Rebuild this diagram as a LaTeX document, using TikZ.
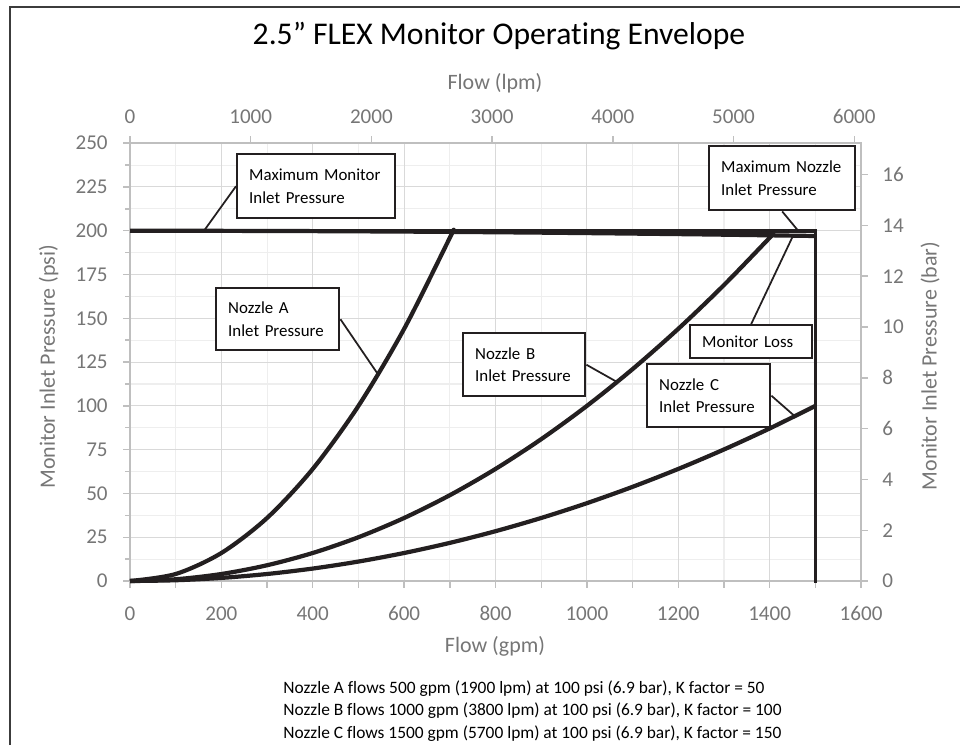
\documentclass[tikz,border=0pt]{standalone}
\usepackage{fontspec}
\setmainfont{Carlito}[Ligatures=NoCommon]
\usepackage{xcolor}
\usepackage{tikz}

\definecolor{axisgray}{RGB}{118,118,118}
\definecolor{gridmajor}{RGB}{217,217,217}
\definecolor{gridminor}{RGB}{238,238,238}
\definecolor{axisline}{RGB}{191,191,191}
\definecolor{inkblack}{RGB}{35,31,32}
\definecolor{framegray}{RGB}{60,60,60}

\tikzset{
    curve/.style={inkblack, line width=2.4pt, line join=round},
    leader/.style={inkblack, line width=1pt},
    callout/.style={draw=inkblack, line width=1.4pt, fill=white, align=left,
        inner xsep=0.24cm, inner ysep=0pt, anchor=north west,
        execute at begin node={\hyphenpenalty=10000\hfuzz=20pt},
        font=\fontsize{9.6}{12.8}\selectfont},
    ticklabel/.style={axisgray, inner sep=0pt, font=\fontsize{12}{14}\selectfont},
    axistitle/.style={axisgray, inner sep=0pt, font=\fontsize{12.5}{15}\selectfont},
    note/.style={inner sep=0pt, anchor=base west, font=\fontsize{9.9}{11}\selectfont}
}

\begin{document}
\begin{tikzpicture}[x=0.02cm, y=-0.02cm]
    \useasboundingbox (0,0) rectangle (960,745);
    \draw[framegray, line width=1.2pt] (10,745) -- (10,7) -- (960,7);

    \node[inner sep=0pt, anchor=base, font=\fontsize{18}{22}\selectfont] (title) at (499,44)
        {2.5” FLEX Monitor Operating Envelope};

    \begin{scope}[shift={(130,581)}, x=0.00914cm, y=0.03504cm]
        \foreach \q in {100,300,...,1500}
            \draw[gridminor, line width=0.6pt] (\q,0) -- (\q,250);
        \foreach \i in {0,...,9}
            \draw[gridminor, line width=0.6pt] (0,{12.5+25*\i}) -- (1600,{12.5+25*\i});
        \foreach \q in {200,400,...,1400}
            \draw[gridmajor, line width=0.6pt] (\q,0) -- (\q,250);
        \foreach \p in {25,50,...,225}
            \draw[gridmajor, line width=0.6pt] (0,\p) -- (1600,\p);
        \draw[axisline, line width=0.8pt] (0,0) rectangle (1600,250);

        \foreach \q in {0,100,...,1600}
            \draw[axisline, line width=0.8pt] (\q,0) -- ++(0pt,-0.14cm);
        \foreach \p in {0,25,...,250}
            \draw[axisline, line width=0.8pt] (0,\p) -- ++(-0.14cm,0pt);
        \foreach \i in {0,...,9}
            \draw[axisline, line width=0.8pt] (0,{12.5+25*\i}) -- ++(-0.1cm,0pt);
        \foreach \l in {0,1000,...,6000}
            \draw[axisline, line width=0.8pt] ({\l/3.78541},250) -- ++(0pt,0.14cm);
        \foreach \b in {0,2,...,16}
            \draw[axisline, line width=0.8pt] (1600,{\b*14.5038}) -- ++(0.14cm,0pt);

        \foreach \q in {0,200,...,1600}
            \path (\q,0) ++(0pt,-0.78cm) node[ticklabel, anchor=base] (gpm\q) {\q};
        \foreach \p in {0,25,...,250}
            \path (0,\p) ++(-0.44cm,0pt) node[ticklabel, anchor=east] (psi\p) {\p};
        \foreach \l in {0,1000,...,6000}
            \path ({\l/3.78541},250) ++(0pt,0.4cm) node[ticklabel, anchor=base] (lpm\l) {\l};
        \foreach \b in {0,2,...,16}
            \path (1600,{\b*14.5038}) ++(0.42cm,0pt) node[ticklabel, anchor=west] (bar\b) {\b};

        \draw[curve] plot[smooth, samples at={0,100,...,700,706}] (\x,{(\x/50)^2});
        \draw[curve] plot[smooth, samples at={0,100,...,1400,1405}] (\x,{(\x/100)^2});
        \draw[curve] plot[smooth, samples at={0,100,...,1500}] (\x,{(\x/150)^2});
        \draw[curve] plot[smooth, samples at={0,300,...,1200,1350,1500}] (\x,{200-3*(\x/1500)^2});
        \draw[curve] (0,200) -- (1500,200);
        \draw[curve, line width=1.9pt, line cap=rect] (1500,200) -- (1500,0);

        \coordinate (monP) at (162,200);
        \coordinate (nozP) at (1464,199.5);
        \coordinate (aP) at (543,{(543/50)^2});
        \coordinate (bP) at (1066,{(1066/100)^2});
        \coordinate (lossP) at (1450,196.5);
        \coordinate (cP) at (1455,{(1455/150)^2});
    \end{scope}

    \node[axistitle, anchor=base] (lpmtitle) at (495,89) {Flow (lpm)};
    \node[axistitle, anchor=base] (gpmtitle) at (495,652) {Flow (gpm)};
    \node[axistitle, rotate=90] (psititle) at (48.5,367) {Monitor Inlet Pressure (psi)};
    \node[axistitle, rotate=90] (bartitle) at (930,366) {Monitor Inlet Pressure (bar)};

    \node[callout, text width=2.68cm, minimum height=1.28cm] (maxmon) at (236,153)
        {Maximum~Monitor\\Inlet Pressure};
    \node[callout, text width=2.44cm, minimum height=1.28cm] (maxnoz) at (708,145)
        {Maximum~Nozzle\\Inlet Pressure};
    \node[callout, text width=1.98cm, minimum height=1.24cm] (nozA) at (215,287)
        {Nozzle A\\Inlet Pressure};
    \node[callout, text width=1.96cm, minimum height=1.26cm] (nozB) at (462,332)
        {Nozzle B\\Inlet Pressure};
    \node[callout, text width=1.96cm, minimum height=0.66cm] (monloss) at (689,324)
        {Monitor Loss};
    \node[callout, text width=1.98cm, minimum height=1.26cm] (nozC) at (646,363)
        {Nozzle C\\Inlet Pressure};

    \draw[leader] (maxmon.west) -- (monP);
    \draw[leader] (maxnoz.south) -- (nozP);
    \draw[leader] (nozA.east) -- (aP);
    \draw[leader] (nozB.east) -- (bP);
    \draw[leader] (monloss.north) -- (lossP);
    \draw[leader] (nozC.east) -- (cP);

    \node[note] (noteA) at (283,693) {Nozzle A flows 500 gpm (1900 lpm) at 100 psi (6.9 bar), K factor = 50};
    \node[note] (noteB) at (283,715.5) {Nozzle B flows 1000 gpm (3800 lpm) at 100 psi (6.9 bar), K factor = 100};
    \node[note] (noteC) at (283,738) {Nozzle C flows 1500 gpm (5700 lpm) at 100 psi (6.9 bar), K factor = 150};
\end{tikzpicture}
\end{document}
